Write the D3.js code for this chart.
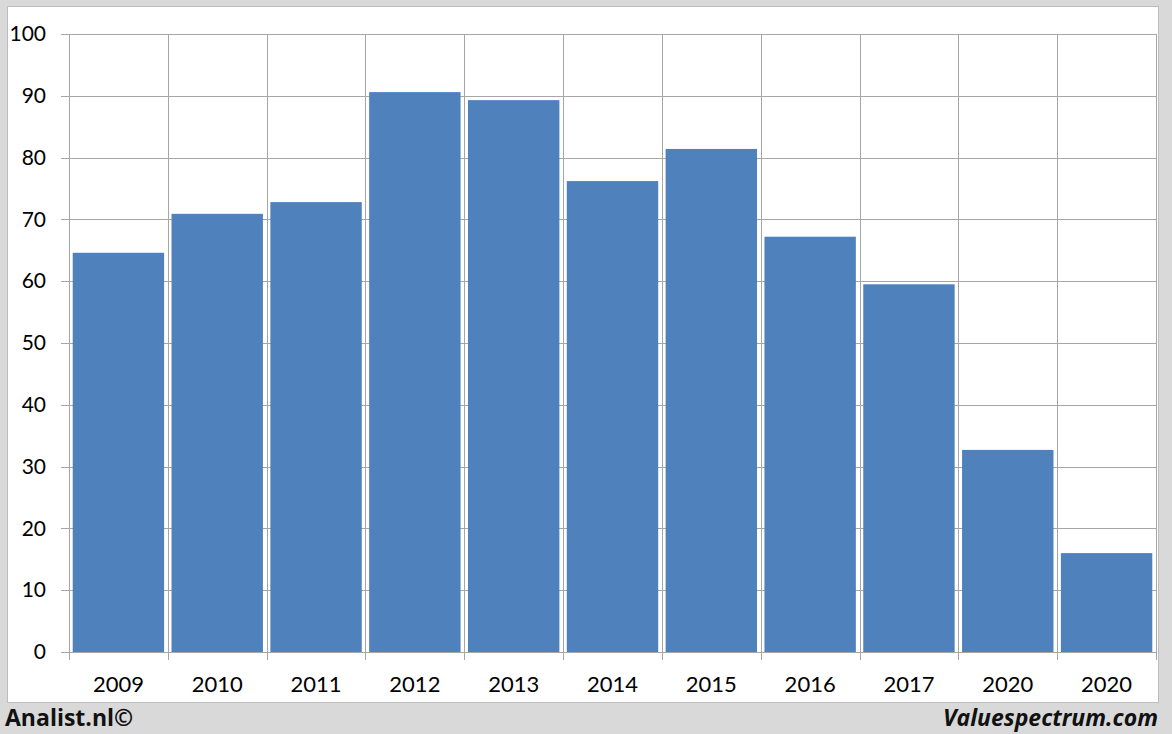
<!DOCTYPE html>
<html><head><meta charset="utf-8">
<script src="https://cdn.jsdelivr.net/npm/d3@7"></script>
<style>
html,body{margin:0;padding:0;background:#d9d9d9;}
svg{display:block;}
</style></head>
<body>
<svg id="chart" width="1172" height="734"></svg>
<script>
const categories = ["2009","2010","2011","2012","2013","2014","2015","2016","2017","2020","2020"];
const values = [64.6, 70.9, 72.8, 90.6, 89.3, 76.2, 81.4, 67.2, 59.5, 32.7, 16.0];
const yTicks = [0,10,20,30,40,50,60,70,80,90,100];
const leftCredit = "Analist.nl©";
const rightCredit = "Valuespectrum.com";

const W = 1172, H = 734;
const svg = d3.select("#chart");
const font = "Lato, 'Open Sans', 'Liberation Sans', sans-serif";
const creditFont = "'Open Sans', Lato, sans-serif";

svg.append("rect").attr("x",0).attr("y",0).attr("width",W).attr("height",H).attr("fill","#d9d9d9");
svg.append("rect").attr("x",7.5).attr("y",6.5).attr("width",1151).attr("height",696)
  .attr("fill","#ffffff").attr("stroke","#bdbdbd").attr("stroke-width",1);

const m = {left:69, right:1156, top:34, bottom:652};
const idx = categories.map((d,i)=>i);
const x = d3.scaleBand().domain(idx).range([m.left,m.right]).paddingInner(0.075).paddingOuter(0.0375);
const xb = d3.scaleBand().domain(idx).range([m.left,m.right]).padding(0);
const y = d3.scaleLinear().domain([0,100]).range([m.bottom,m.top]);

const grid = svg.append("g");
grid.selectAll("line.h").data(yTicks).join("line")
  .attr("x1",m.left-8).attr("x2",m.right)
  .attr("y1",d=>Math.round(y(d))+0.5).attr("y2",d=>Math.round(y(d))+0.5)
  .attr("stroke","#a6a6a6").attr("stroke-width",1);
const bounds = idx.map(i=>xb(i)).concat([m.right]);
grid.selectAll("line.v").data(bounds).join("line")
  .attr("x1",d=>Math.round(d)+0.5).attr("x2",d=>Math.round(d)+0.5)
  .attr("y1",m.top).attr("y2",m.bottom+8)
  .attr("stroke","#a6a6a6").attr("stroke-width",1);

svg.append("g").selectAll("rect").data(values).join("rect")
  .attr("x",(d,i)=>x(i)).attr("width",x.bandwidth())
  .attr("y",d=>y(d)).attr("height",d=>y(0)-y(d))
  .attr("fill","#4f81bd");

const yAxis = d3.axisLeft(y).tickValues(yTicks).tickSize(0).tickPadding(0);
const ya = svg.append("g").attr("transform",`translate(${m.left-23},0)`).call(yAxis);
ya.select(".domain").remove();
ya.selectAll("text").attr("font-family",font).attr("font-size",21).attr("fill","#000");

const xAxis = d3.axisBottom(xb).tickFormat(i=>categories[i]).tickSize(0).tickPadding(0);
const xa = svg.append("g").attr("transform",`translate(0,${m.bottom+24})`).call(xAxis);
xa.select(".domain").remove();
xa.selectAll("text").attr("font-family",font).attr("font-size",22).attr("fill","#000");

svg.append("text").attr("x",5).attr("y",726).text(leftCredit)
  .attr("font-family",creditFont).attr("font-weight","bold").attr("font-size",23).attr("fill","#111");
svg.append("text").attr("x",1158).attr("y",726).attr("text-anchor","end").text(rightCredit)
  .attr("font-family",creditFont).attr("font-weight","bold").attr("font-style","italic").attr("font-size",23).attr("fill","#111");
</script>
</body></html>
